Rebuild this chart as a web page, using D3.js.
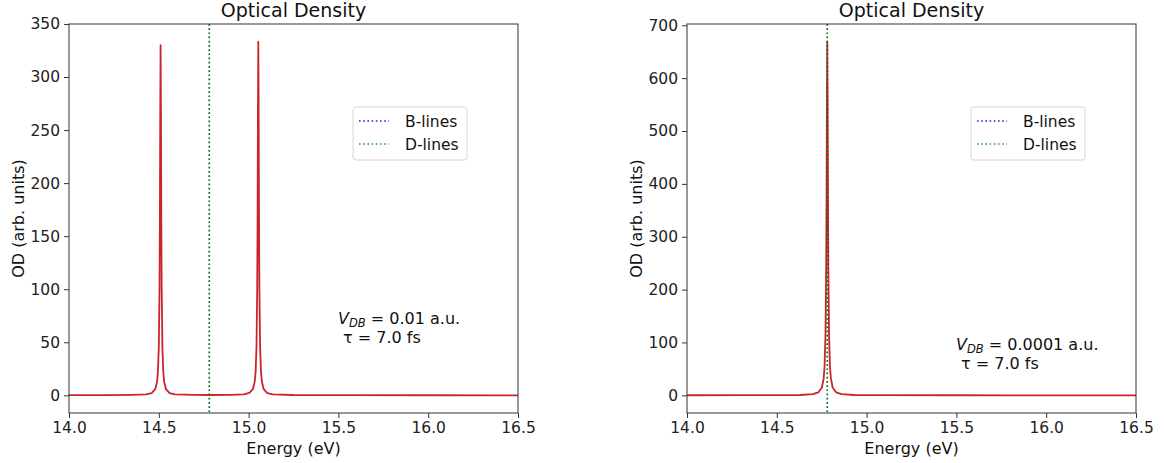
<!DOCTYPE html>
<html>
<head>
<meta charset="utf-8">
<script src="https://cdn.jsdelivr.net/npm/d3@7"></script>
<style>
  html, body { margin: 0; padding: 0; background: #fff; }
  svg { display: block; font-family: "DejaVu Sans", sans-serif; }
  .tick text { fill: #222; }
</style>
</head>
<body>
<svg id="chart" width="1164" height="463"></svg>
<script>
// Optical density spectra, two coupling strengths (V_DB), tau = 7.0 fs
const xTicks = [14.0, 14.5, 15.0, 15.5, 16.0, 16.5];
const leftYTicks = [0, 50, 100, 150, 200, 250, 300, 350];
const rightYTicks = [0, 100, 200, 300, 400, 500, 600, 700];

// D-line position (eV)
const dLines = [14.781];

// Panel 1: V_DB = 0.01 a.u. — two split peaks
const leftEnergy = [
  14.0, 14.2, 14.35, 14.43, 14.46, 14.48, 14.49, 14.495, 14.5, 14.504, 14.506, 14.508,
  14.510, 14.512, 14.514, 14.516, 14.52, 14.525, 14.53, 14.54, 14.56, 14.59, 14.7,
  14.78, 14.9, 14.974, 15.004, 15.024, 15.034, 15.039, 15.044, 15.048, 15.05, 15.052,
  15.054, 15.056, 15.058, 15.06, 15.064, 15.069, 15.074, 15.084, 15.104, 15.134, 15.25,
  15.6, 16.0, 16.5
];
const leftOD = [
  0.1, 0.2, 0.4, 0.8, 2.1, 5.8, 12.7, 21.9, 45.5, 101.5, 165, 264,
  330, 264, 165, 101.5, 45.5, 21.9, 12.7, 5.8, 2.1, 0.8, 0.4,
  0.3, 0.4, 0.9, 2.2, 5.9, 12.9, 22.1, 46, 102, 167, 266,
  333.3, 266, 167, 102, 46, 22.1, 12.8, 5.8, 2.1, 0.8, 0.3,
  0.1, 0.05, 0.03
];

// Panel 2: V_DB = 0.0001 a.u. — single merged peak
const rightEnergy = [
  14.0, 14.3, 14.5, 14.631, 14.701, 14.731, 14.751, 14.761, 14.766, 14.771, 14.775,
  14.777, 14.779, 14.781, 14.783, 14.785, 14.787, 14.791, 14.796, 14.801, 14.811,
  14.831, 14.861, 14.931, 15.1, 15.5, 16.0, 16.5
];
const rightOD = [
  0.1, 0.2, 0.5, 0.6, 2.1, 5.4, 14.7, 32, 55, 113, 241,
  374, 559, 669, 559, 374, 241, 113, 55, 32, 14.7,
  5.4, 2.1, 0.6, 0.3, 0.1, 0.05, 0.03
];

const titleText = "Optical Density";
const xLabel = "Energy (eV)";
const yLabel = "OD (arb. units)";
const legendLabels = ["B-lines", "D-lines"];

const panels = [
  { energy: leftEnergy, od: leftOD, yTicks: leftYTicks, left: 69, right: 518,
    note: ["0.01", 338, 324] },
  { energy: rightEnergy, od: rightOD, yTicks: rightYTicks, left: 687, right: 1136,
    note: ["0.0001", 956, 350] }
];

const svg = d3.select("#chart");
const plotTop = 24, plotBottom = 413;
const curveColor = "#c9252b";
const spineColor = "#333";

panels.forEach(p => {
  const x = d3.scaleLinear().domain([14.0, 16.5]).range([p.left, p.right]);
  const maxV = d3.max(p.od), minV = Math.min(0, d3.min(p.od));
  const pad = (maxV - minV) * 0.05;
  const y = d3.scaleLinear().domain([minV - pad, maxV + pad]).range([plotBottom, plotTop]);

  const g = svg.append("g");

  // curve
  const pts = p.energy.map((e, i) => [e, p.od[i]]);
  g.append("path")
    .datum(pts)
    .attr("fill", "none")
    .attr("stroke", curveColor)
    .attr("stroke-width", 1.8)
    .attr("stroke-linejoin", "round")
    .attr("d", d3.line().x(d => x(d[0])).y(d => y(d[1])));

  // D-lines
  g.selectAll(".dline").data(dLines).join("line")
    .attr("x1", d => x(d)).attr("x2", d => x(d))
    .attr("y1", plotTop).attr("y2", plotBottom)
    .attr("stroke", "#00701a")
    .attr("stroke-width", 1.7)
    .attr("stroke-dasharray", "1.7,2.5");

  // axes
  const xAxis = d3.axisBottom(x).tickValues(xTicks).tickFormat(d3.format(".1f"))
    .tickSize(5).tickSizeOuter(0).tickPadding(4);
  const yAxis = d3.axisLeft(y).tickValues(p.yTicks).tickFormat(d3.format("d"))
    .tickSize(5).tickSizeOuter(0).tickPadding(4);

  const gx = g.append("g").attr("transform", `translate(0,${plotBottom})`).call(xAxis);
  const gy = g.append("g").attr("transform", `translate(${p.left},0)`).call(yAxis);
  [gx, gy].forEach(a => {
    a.select(".domain").remove();
    a.selectAll(".tick line").attr("stroke", spineColor).attr("stroke-width", 1);
    a.selectAll(".tick text").attr("font-size", 15.5).attr("font-family", "DejaVu Sans");
  });

  // frame
  g.append("rect")
    .attr("x", p.left).attr("y", plotTop)
    .attr("width", p.right - p.left).attr("height", plotBottom - plotTop)
    .attr("fill", "none").attr("stroke", spineColor).attr("stroke-width", 1);

  const cx = (p.left + p.right) / 2;
  g.append("text").attr("x", cx).attr("y", 17).attr("text-anchor", "middle")
    .attr("font-size", 19).attr("fill", "#111").text(titleText);
  g.append("text").attr("x", cx).attr("y", 454).attr("text-anchor", "middle")
    .attr("font-size", 16).attr("fill", "#111").text(xLabel);
  g.append("text")
    .attr("transform", `translate(${p.left - 45},${(plotTop + plotBottom) / 2}) rotate(-90)`)
    .attr("text-anchor", "middle").attr("font-size", 16).attr("fill", "#111").text(yLabel);

  // legend
  const lx = p.left + 284, ly = 107;
  const lg = g.append("g").attr("transform", `translate(${lx},${ly})`);
  lg.append("rect").attr("width", 114).attr("height", 53).attr("rx", 3)
    .attr("fill", "#fff").attr("fill-opacity", 0.8)
    .attr("stroke", "#d6d6d6").attr("stroke-width", 1);
  const legColors = ["#1f1fff", "#22a022"];
  legendLabels.forEach((lab, i) => {
    const yy = 14 + i * 23;
    lg.append("line").attr("x1", 6).attr("x2", 36).attr("y1", yy).attr("y2", yy)
      .attr("stroke", legColors[i]).attr("stroke-width", 1.6)
      .attr("stroke-dasharray", "1.6,2.6");
    lg.append("text").attr("x", 52).attr("y", yy + 5.5).attr("font-size", 15.5)
      .attr("fill", "#111").text(lab);
  });

  // annotation
  const [vdb, nx, ny] = p.note;
  const t1 = g.append("text").attr("x", nx).attr("y", ny).attr("font-size", 16).attr("fill", "#111");
  t1.append("tspan").attr("font-style", "italic").text("V");
  t1.append("tspan").attr("font-style", "italic").attr("font-size", 11.5).attr("dy", 3).text("DB");
  t1.append("tspan").attr("dy", -3).text(` = ${vdb} a.u.`);
  g.append("text").attr("x", nx + 5).attr("y", ny + 19).attr("font-size", 16)
    .attr("fill", "#111").text("τ = 7.0 fs");
});
</script>
</body>
</html>
